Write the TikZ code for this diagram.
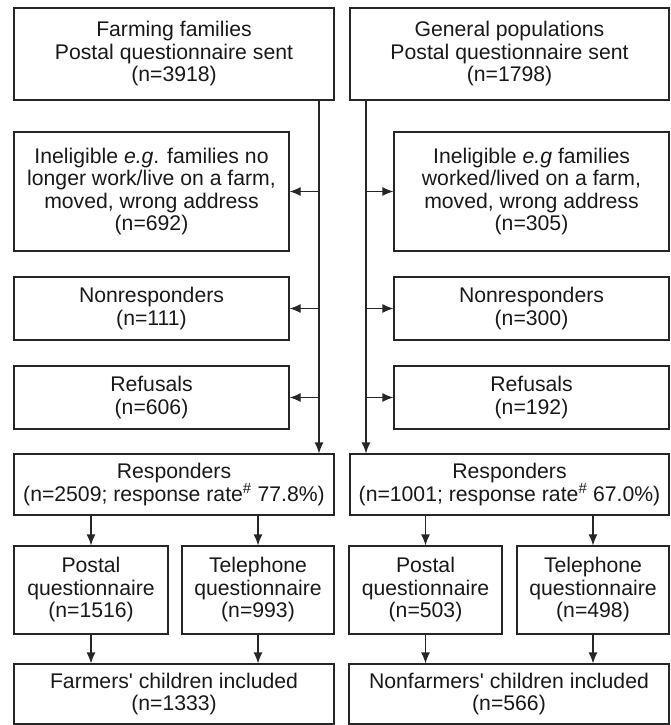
\documentclass[tikz,border=0pt]{standalone}
\usepackage{fontspec}
\setmainfont{Liberation Sans}
\usetikzlibrary{arrows.meta}
\begin{document}
\begin{tikzpicture}[x=1pt,y=-1pt,
	box/.style={draw=black!85,line width=1.2pt,rectangle,align=center,inner sep=1pt,
		font=\fontsize{21.2}{22.5}\selectfont,text=black!90},
	wide/.style={box,minimum width=320pt},
	side/.style={box,minimum width=275pt},
	half/.style={box,minimum width=153pt,minimum height=88pt},
	arr/.style={draw=black!85,line width=1.2pt,-{Latex[length=11pt,width=9pt]}}
]
\useasboundingbox (0,0) rectangle (671,725);

\node[wide,minimum height=92pt](famA) at(174,54) {Farming families\\Postal questionnaire sent\\(n=3918)};
\node[wide,minimum height=92pt,minimum width=319pt](famB) at(509.5,54) {General populations\\Postal questionnaire sent\\(n=1798)};

\node[side,minimum height=119pt](inelA) at(151.5,191.5) {Ineligible \textit{e.g}. families no\\longer work/live on a farm,\\moved, wrong address\\(n=692)};
\node[side,minimum height=119pt](inelB) at(531.5,191.5) {Ineligible \textit{e.g} families\\worked/lived on a farm,\\moved, wrong address\\(n=305)};

\node[side,minimum height=63pt](nonA) at(151.5,308.5) {Nonresponders\\(n=111)};
\node[side,minimum height=63pt](nonB) at(531.5,308.5) {Nonresponders\\(n=300)};

\node[side,minimum height=63pt](refA) at(151.5,397.5) {Refusals\\(n=606)};
\node[side,minimum height=63pt](refB) at(531.5,397.5) {Refusals\\(n=192)};

\node[wide,minimum height=61pt](respA) at(174,484.5) {Responders\\(n=2509; response rate\textsuperscript{\#} 77.8\%)};
\node[wide,minimum height=61pt,minimum width=319pt](respB) at(509.5,484.5) {Responders\\(n=1001; response rate\textsuperscript{\#} 67.0\%)};

\node[half,minimum width=154pt](postA) at(91,590) {Postal\\questionnaire\\(n=1516)};
\node[half,minimum width=152pt](telA) at(258,590) {Telephone\\questionnaire\\(n=993)};
\node[half](postB) at(425.5,590) {Postal\\questionnaire\\(n=503)};
\node[half,minimum width=152pt](telB) at(593,590) {Telephone\\questionnaire\\(n=498)};

\node[wide,minimum height=60pt](kidA) at(174,694) {Farmers\textquotesingle{} children included\\(n=1333)};
\node[wide,minimum height=60pt](kidB) at(509,694) {Nonfarmers\textquotesingle{} children included\\(n=566)};

\coordinate(tA) at(319,100);
\coordinate(tB) at(366,100);

\draw[arr] (tA) -- (tA |- respA.north);
\draw[arr] (tB) -- (tB |- respB.north);

\foreach \b in {inelA,nonA,refA}{
	\draw[arr] (tA |- \b.east) -- (\b.east);
}
\foreach \b in {inelB,nonB,refB}{
	\draw[arr] (tB |- \b.west) -- (\b.west);
}

\foreach \r/\u/\v in {
	respA/postA/kidA,respA/telA/kidA,respB/postB/kidB,respB/telB/kidB%
}{
	\draw[arr] (\u.north |- \r.south) -- (\u.north);
	\draw[arr] (\u.south) -- (\u.south |- \v.north);
}
\end{tikzpicture}
\end{document}
